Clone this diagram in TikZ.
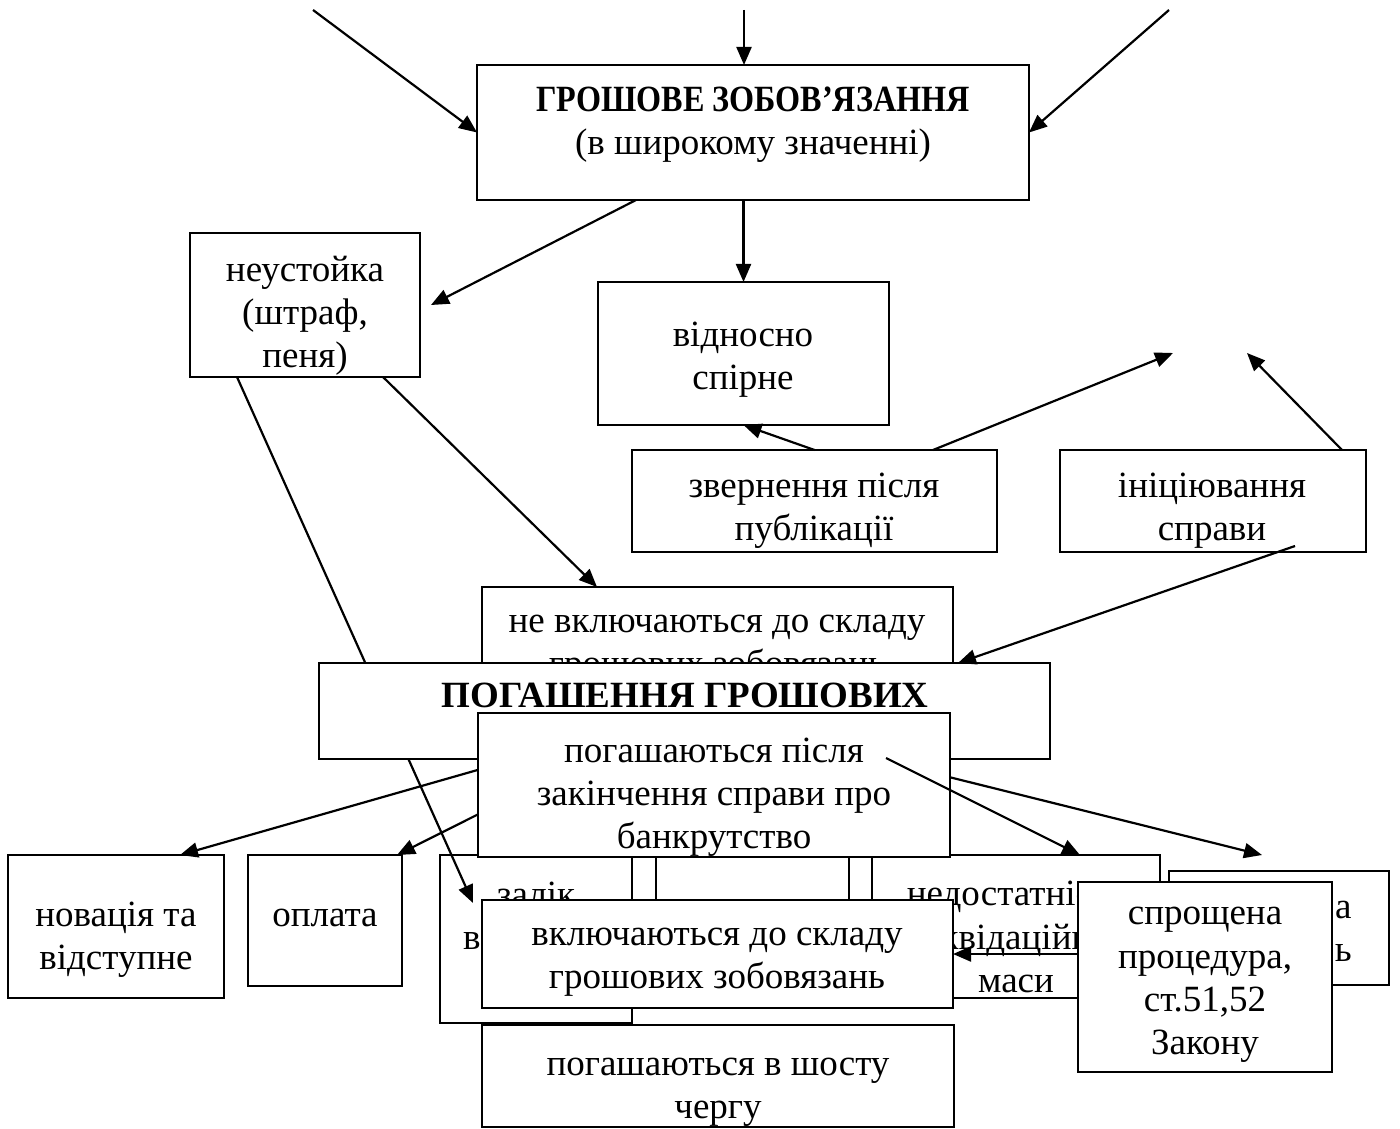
\documentclass[tikz,border=0pt]{standalone}
\usepackage{graphicx}
\usepackage{fontspec}
\setmainfont{Liberation Serif}
\usetikzlibrary{arrows.meta,fit,calc}
\begin{document}
\begin{tikzpicture}[x=0.5pt,y=-0.5pt,
  box/.style={draw, fill=white, line width=1.2pt, inner sep=0pt, outer sep=0pt},
  txt/.style={align=center, inner sep=0pt, yshift=-2.5pt, font=\fontsize{18.5}{21.6}\selectfont},
  arr/.style={line width=1.1pt, -{Triangle[length=9pt,width=7.5pt]}},
  ln/.style={line width=1.1pt}]
\useasboundingbox (0,0) rectangle (1400,1128);

% free ends
\coordinate (s1) at (313,10);
\coordinate (s2) at (744,10);
\coordinate (s3) at (1169,10);
\coordinate (f1) at (1173,353);
\coordinate (f2) at (1247,353);

% main box
\node[box, fit={(477,65) (1029,200)}] (main) {};
\node[txt] (mainT) at (753,120) {\scalebox{0.87}[1]{\textbf{ГРОШОВЕ ЗОБОВ’ЯЗАННЯ}}\\(в широкому значенні)};
\draw[arr] (s1) -- (main.west);
\draw[arr] (s2) -- (s2 |- main.north);
\draw[arr] (s3) -- (main.east);

% second level
\node[box, fit={(190,233) (420,377)}] (neust) {};
\node[txt] (neustT) at (305,311) {неустойка\\(штраф,\\пеня)};
\node[box, fit={(598,282) (889,425)}] (vidn) {};
\node[txt] (vidnT) at (743,355) {відносно\\спірне};
\node[box, fit={(632,450) (997,552)}] (zvern) {};
\node[txt] (zvernT) at (814,506) {звернення після\\публікації};
\node[box, fit={(1060,450) (1366,552)}] (inic) {};
\node[txt] (inicT) at (1212,506) {ініціювання\\справи};

\draw[arr] ($(main.south west)+(159,0)$) -- ($(neust.east)+(11,0)$);
\draw[arr] (vidn.north |- main.south) -- (vidn.north);
\draw[arr] (zvern.north) -- (vidn.south);
\draw[arr] ($(zvern.north east)+(-64,0)$) -- (f1);
\draw[arr] ($(inic.north east)+(-24,0)$) -- (f2);

% не включаються
\node[box, fit={(482,587) (953,705)}] (nevkl) {};
\node[txt] (nevklT) at (717,644) {не включаються до складу\\грошових зобовязань};
\draw[arr] ($(neust.south east)+(-37,0)$) -- ($(nevkl.north west)+(115,0)$);

% bottom row
\node[box, fit={(8,855) (224,998)}] (novac) {};
\node[txt] (novacT) at (116,935) {новація та\\відступне};
\node[box, fit={(248,855) (402,986)}] (oplata) {};
\node[txt] (oplataT) at (325,913) {оплата};
\node[box, fit={(440,855) (632,1023)}] (zalik) {};
\node[txt] (zalikT) at (536,911) {залік\\в\phantom{заємних}};
\node[box, fit={(656,855) (849,998)}] (mid) {};
\node[box, fit={(872,855) (1160,998)}] (nedost) {};
\node[txt] (nedostT) at (1016,932) {недостатність\\ліквідаційної\\маси};
\node[box, fit={(1169,871) (1389,985)}] (right) {};
\node[txt, anchor=east] (rightA) at (1352,905) {а};
\node[txt, anchor=east] (rightB) at (1352,948) {ь};

\draw[arr] ($(neust.south west)+(47,0)$) -- ($(zalik.north west)+(33,48)$);

% lines from ПОГАШЕННЯ
\coordinate (pc) at (684,711);
\draw[arr] (pc) -- ($(novac.north east)+(-44,0)$);
\draw[arr] (pc) -- ($(oplata.north east)+(-5,0)$);
\draw[arr] (pc) -- ($(right.north)+(-17,-16)$);

\node[box, fit={(319,663) (1050,759)}] (pogash) {};
\node[txt, yshift=2.5pt] (pogashT) at (685,695) {\textbf{ПОГАШЕННЯ ГРОШОВИХ}};
\draw[arr] ($(inic.south west)+(235,-6)$) -- ($(pogash.north east)+(-92,0)$);

\node[box, fit={(478,713) (950,857)}] (pisl) {};
\node[txt] (pislT) at (714,792) {погашаються після\\закінчення справи про\\банкрутство};
\draw[arr] ($(pisl.north east)+(-64,45)$) -- ($(nedost.north west)+(208,0)$);

\node[box, fit={(482,900) (953,1008)}] (vkl) {};
\node[txt] (vklT) at (717,957) {включаються до складу\\грошових зобовязань};

\node[box, fit={(1078,882) (1332,1072)}] (sproshch) {};
\node[txt] (sproshchT) at (1205,980) {спрощена\\процедура,\\ст.51,52\\Закону};
\draw[arr] (sproshch.west |- vkl.east) -- (vkl.east);

\node[box, fit={(482,1025) (954,1127)}] (shostu) {};
\node[txt] (shostuT) at (718,1087) {погашаються в шосту\\чергу};
\end{tikzpicture}
\end{document}
